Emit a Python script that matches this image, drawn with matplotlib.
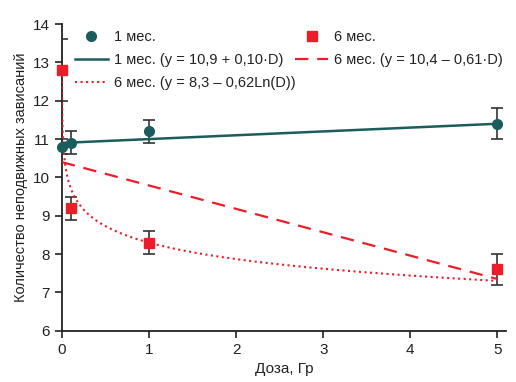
import numpy as np
import matplotlib
matplotlib.use('Agg')
import matplotlib.pyplot as plt

plt.rcParams['font.family'] = ['Liberation Sans', 'DejaVu Sans']

# data
dose = [0, 0.1, 1, 5]
m1 = [10.8, 10.9, 11.2, 11.4]
m1_err = [0.2, 0.3, 0.3, 0.4]
m6 = [12.8, 9.2, 8.3, 7.6]
m6_err = [0.8, 0.3, 0.3, 0.4]

# fit coefficients from the legend
a1, b1 = 10.9, 0.10
a6, b6 = 10.4, -0.61
a6log, b6log = 8.3, -0.62

teal = '#1b5c5c'
red = '#ec1c2a'

fig = plt.figure(figsize=(5.16, 3.82), dpi=100)
ax = fig.add_axes([0.120, 0.134, 0.861, 0.803])

ax.errorbar(dose, m1, yerr=m1_err, fmt='none', ecolor='#333333', elinewidth=1.2,
            capsize=4, capthick=1.2, zorder=3)
ax.errorbar(dose, m6, yerr=m6_err, fmt='none', ecolor='#333333', elinewidth=1.2,
            capsize=4, capthick=1.2, zorder=3)

xx = np.linspace(0, 5, 100)
xl = np.geomspace(0.0007, 5, 400)
h1, = ax.plot(dose, m1, 'o', color=teal, ms=7, zorder=5, clip_on=False, label='1 мес.')
h2, = ax.plot(xx, a1 + b1 * xx, '-', color=teal, lw=1.8, zorder=4,
              label='1 мес. (y = 10,9 + 0,10·D)')
h3, = ax.plot(xl, a6log + b6log * np.log(xl), ':', color=red, lw=1.5, zorder=4,
              label='6 мес. (y = 8,3 – 0,62Ln(D))')
h4, = ax.plot(dose, m6, 's', color=red, ms=7, zorder=5, clip_on=False, label='6 мес.')
h5, = ax.plot(xx, a6 + b6 * xx, '--', color=red, lw=1.6, dashes=(6, 4), zorder=4,
              label='6 мес. (y = 10,4 – 0,61·D)')

ax.set_xlim(0, 5.1)
ax.set_ylim(6, 14)
ax.set_xticks([0, 1, 2, 3, 4, 5])
ax.set_yticks(range(6, 15))
for s in ['top', 'right']:
    ax.spines[s].set_visible(False)
for s in ['left', 'bottom']:
    ax.spines[s].set_linewidth(1.3)
    ax.spines[s].set_color('#222222')
ax.tick_params(direction='out', length=5, width=1.2, labelsize=11, colors='#222222')

ax.set_xlabel('Доза, Гр', fontsize=11, color='#222222')
ax.set_ylabel('Количество неподвижных зависаний', fontsize=10.5, color='#222222')

legkw = dict(frameon=False, fontsize=10.5, loc='upper left', borderpad=0,
             handlelength=2.3, labelspacing=0.6, handletextpad=0.4)
leg1 = ax.legend(handles=[h1, h2, h3], bbox_to_anchor=(0.012, 1.004), **legkw)
ax.add_artist(leg1)
leg2 = ax.legend(handles=[h4, h5], bbox_to_anchor=(0.508, 1.004), **legkw)
for lg in (leg1, leg2):
    for t in lg.get_texts():
        t.set_color('#222222')

fig.savefig('out.png', dpi=100)
